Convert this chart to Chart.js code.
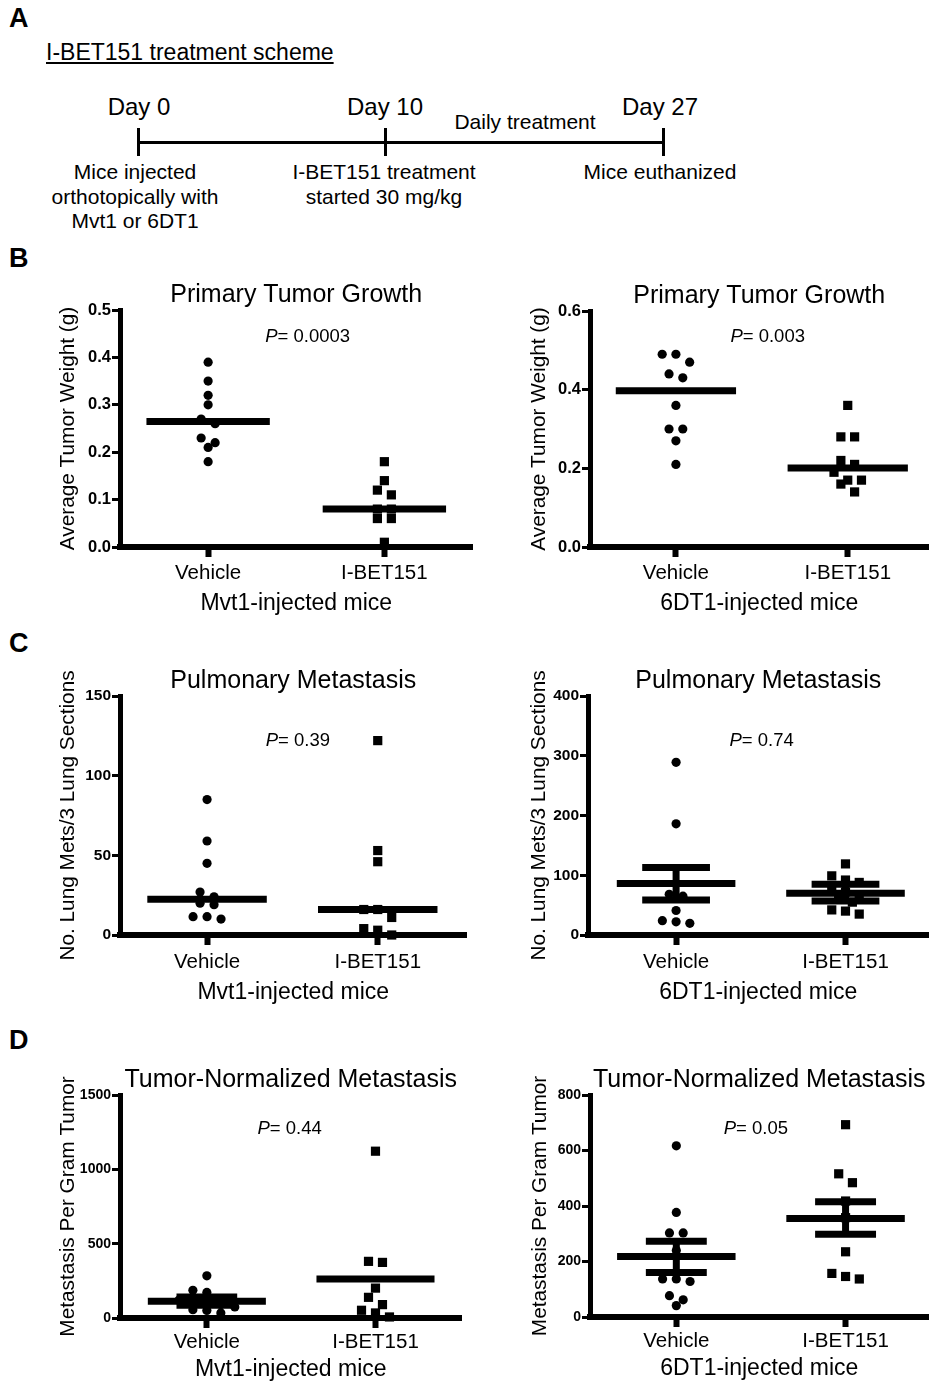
<!DOCTYPE html>
<html><head><meta charset="utf-8">
<script src="https://cdn.jsdelivr.net/npm/chart.js"></script>
<style>
body{margin:0;background:#fff;}
#page{position:relative;width:935px;height:1383px;font-family:"Liberation Sans",Arial,sans-serif;color:#000;overflow:hidden;background:#fff}
.t{position:absolute;white-space:nowrap;line-height:1}
.c{text-align:center;width:400px}
.bar{position:absolute;background:#000}
canvas{position:absolute}
</style></head><body><div id="page">
<div class="t" style="left:9px;top:5px;font-size:27px;font-weight:bold">A</div>
<div class="t" style="left:9px;top:245px;font-size:27px;font-weight:bold">B</div>
<div class="t" style="left:9px;top:630px;font-size:27px;font-weight:bold">C</div>
<div class="t" style="left:9px;top:1027px;font-size:27px;font-weight:bold">D</div>

<div class="t" style="left:46px;top:41px;font-size:23px;text-decoration:underline">I-BET151 treatment scheme</div>
<div class="t c" style="left:-61px;top:95px;font-size:24px">Day 0</div>
<div class="t c" style="left:185px;top:95px;font-size:24px">Day 10</div>
<div class="t c" style="left:460px;top:95px;font-size:24px">Day 27</div>
<div class="t c" style="left:325px;top:110.5px;font-size:21px">Daily treatment</div>
<div class="bar" style="left:138px;top:140.5px;width:525px;height:3px"></div>
<div class="bar" style="left:136.5px;top:128px;width:3px;height:28px"></div>
<div class="bar" style="left:383.5px;top:128px;width:3px;height:28px"></div>
<div class="bar" style="left:661.5px;top:128px;width:3px;height:28px"></div>
<div class="t c" style="left:-65px;top:160px;font-size:21px;line-height:24.5px">Mice injected<br>orthotopically with<br>Mvt1 or 6DT1</div>
<div class="t c" style="left:184px;top:160px;font-size:21px;line-height:24.5px">I-BET151 treatment<br>started 30 mg/kg</div>
<div class="t c" style="left:460px;top:160px;font-size:21px;line-height:24.5px">Mice euthanized</div>

<canvas id="b1"></canvas><canvas id="b2"></canvas>
<canvas id="c1"></canvas><canvas id="c2"></canvas>
<canvas id="d1"></canvas><canvas id="d2"></canvas>
</div>
<script>
// ---------------- DATA ----------------
const categories = ['Vehicle', 'I-BET151'];
const groupLabels = ['Mvt1-injected mice', '6DT1-injected mice'];

// Panel B: Primary tumor growth (g)
const bMvt1Vehicle = [0.39, 0.35, 0.32, 0.30, 0.27, 0.26, 0.23, 0.22, 0.21, 0.18];
const bMvt1IBET    = [0.18, 0.14, 0.12, 0.11, 0.08, 0.08, 0.06, 0.06, 0.01];
const bMvt1Mean    = [0.265, 0.08];
const b6DT1Vehicle = [0.49, 0.49, 0.47, 0.44, 0.43, 0.36, 0.30, 0.30, 0.27, 0.21];
const b6DT1IBET    = [0.36, 0.28, 0.28, 0.22, 0.21, 0.19, 0.17, 0.17, 0.16, 0.14];
const b6DT1Mean    = [0.397, 0.201];

// Panel C: Pulmonary metastasis (no. lung mets / 3 lung sections)
const cMvt1Vehicle = [85, 59, 45, 27, 24, 20, 19, 11.5, 11.5, 10];
const cMvt1IBET    = [122, 53, 46, 16, 16, 11, 4, 3, 0];
const cMvt1Mean    = [22.4, 16];
const c6DT1Vehicle = [289, 186, 68, 65, 41, 24, 22, 19.5];
const c6DT1IBET    = [119, 99, 92, 88, 80, 72, 65, 60, 55, 42, 40, 35];
const c6DT1Mean    = [86, 70];
const c6DT1Sem     = [[58.5, 113], [57, 85]];

// Panel D: Tumor-normalized metastasis (per gram tumor)
const dMvt1Vehicle = [284, 186, 172, 130, 120, 101, 101, 90, 74, 56, 51, 34];
const dMvt1IBET    = [1122, 381, 374, 201, 139, 90, 52, 34, 7];
const dMvt1Mean    = [112, 262];
const dMvt1Sem     = [[85, 142], null];
const d6DT1Vehicle = [617, 377, 303, 303, 240, 137, 137, 128, 77, 62, 41];
const d6DT1IBET    = [693, 516, 484, 418, 358, 235, 157, 146, 137];
const d6DT1Mean    = [218, 355];
const d6DT1Sem     = [[160, 273], [298, 415]];

const pValues = ['0.0003', '0.003', '0.39', '0.74', '0.44', '0.05'];

const yTicksB1 = [0, 0.1, 0.2, 0.3, 0.4, 0.5];
const yTicksB2 = [0, 0.2, 0.4, 0.6];
const yTicksC1 = [0, 50, 100, 150];
const yTicksC2 = [0, 100, 200, 300, 400];
const yTicksD1 = [0, 500, 1000, 1500];
const yTicksD2 = [0, 200, 400, 600, 800];

// ---------------- RENDERING ----------------
const F = '"Liberation Sans", Arial, sans-serif';
Chart.defaults.font.family = F;
Chart.defaults.color = '#000';

// Prism-like column scatter: points whose values fall within one symbol height share a row
// and are spread symmetrically around the column centre.
function swarm(vals, pxY, step, rowH) {
  const idx = vals.map((v, i) => i).sort((a, b) => vals[b] - vals[a]);
  const off = vals.map(() => 0);
  let row = [];
  const flush = () => {
    row.forEach((i, k) => { off[i] = (k - (row.length - 1) / 2) * step; });
    row = [];
  };
  idx.forEach(i => {
    if (row.length && (vals[row[0]] - vals[i]) * pxY >= rowH) flush();
    row.push(i);
  });
  flush();
  return off;
}

const annot = {
  id: 'annot',
  afterDraw(chart, args, o) {
    const {ctx, chartArea: a, scales} = chart;
    ctx.save();
    ctx.fillStyle = '#000';
    ctx.translate(a.left - o.yTitleGap, (a.top + a.bottom) / 2);
    ctx.rotate(-Math.PI / 2);
    ctx.font = o.yTitleSize + 'px ' + F;
    ctx.textAlign = 'center'; ctx.textBaseline = 'middle';
    ctx.fillText(o.yTitle, 0, 0);
    ctx.restore();
    ctx.save();
    ctx.fillStyle = '#000';
    const cx = scales.x.getPixelForValue(o.pX), cy = scales.y.getPixelForValue(o.pY);
    ctx.textBaseline = 'middle'; ctx.textAlign = 'left';
    const fi = 'italic ' + o.pSize + 'px ' + F, fn = o.pSize + 'px ' + F;
    ctx.font = fi; const w1 = ctx.measureText('P').width;
    ctx.font = fn; const rest = '= ' + o.p; const w2 = ctx.measureText(rest).width;
    const x0 = cx - (w1 + w2) / 2;
    ctx.font = fi; ctx.fillText('P', x0, cy);
    ctx.font = fn; ctx.fillText(rest, x0 + w1, cy);
    ctx.restore();
  }
};

function lineDs(pts, w) {
  return {type: 'line', data: pts, borderColor: '#000', borderWidth: w, pointRadius: 0,
    showLine: true, borderCapStyle: 'butt', clip: false, fill: false};
}

function build(id, s) {
  const cv = document.getElementById(id);
  const titleH = 25 * 1.2;
  const ct = Math.floor(s.T - titleH - 6);
  const padTop = s.T - titleH - ct;
  const ch = Math.ceil(s.B + s.xh - ct);
  const padBottom = ct + ch - (s.B + s.xh);
  const cw = s.cr - s.cl;
  cv.width = cw; cv.height = ch;
  cv.style.left = s.cl + 'px'; cv.style.top = ct + 'px';
  cv.style.width = cw + 'px'; cv.style.height = ch + 'px';
  const pxY = (s.B - s.T) / (s.yr[1] - s.yr[0]);
  const pxX = (s.R - s.L) / (s.xr[1] - s.xr[0]);
  const datasets = [];
  [s.g1, s.g2].forEach((vals, gi) => {
    const off = swarm(vals, pxY, 14, 9);
    datasets.push({
      data: vals.map((v, i) => ({x: gi + 1 + off[i] / pxX, y: v})),
      pointStyle: gi === 0 ? 'circle' : 'rect', pointRadius: gi === 0 ? 4.6 : 6.5,
      backgroundColor: '#000', borderWidth: 0, pointHoverRadius: 0, clip: false
    });
  });
  s.mean.forEach((m, gi) => {
    const c = gi + 1;
    datasets.push(lineDs([{x: c - 0.35, y: m}, {x: c + 0.35, y: m}], 7));
  });
  if (s.sem) s.sem.forEach((e, gi) => {
    if (!e) return;
    const c = gi + 1, h = s.capHalf;
    datasets.push(lineDs([{x: c - h, y: e[0]}, {x: c + h, y: e[0]}], 7));
    datasets.push(lineDs([{x: c - h, y: e[1]}, {x: c + h, y: e[1]}], 7));
    datasets.push(lineDs([{x: c, y: e[0]}, {x: c, y: e[1]}], 7));
  });
  const yW = s.L - s.cl;
  new Chart(cv, {
    type: 'scatter',
    data: {datasets},
    plugins: [annot],
    options: {
      responsive: false, animation: false, devicePixelRatio: 1,
      layout: {padding: {top: padTop, bottom: padBottom, left: 0, right: s.cr - s.R}},
      plugins: {
        legend: {display: false}, tooltip: {enabled: false},
        title: {display: true, text: s.title, fullSize: false, color: '#000',
          font: {family: F, size: 25, weight: 'normal'}, padding: {top: 0, bottom: 0}},
        annot: {yTitle: s.yTitle, yTitleGap: s.yGap, yTitleSize: 20.8, p: s.p, pX: s.pX, pY: s.pY, pSize: 18.5}
      },
      scales: {
        x: {
          type: 'linear', min: s.xr[0], max: s.xr[1],
          afterBuildTicks: ax => { ax.ticks = categories.map((c, i) => ({value: i + 1})); },
          afterFit: ax => { ax.height = s.xh; },
          ticks: {callback: v => categories[v - 1], autoSkip: false, maxRotation: 0, padding: s.tickPad,
            color: '#000', font: {family: F, size: 20.5}},
          grid: {drawOnChartArea: false, drawTicks: true, tickLength: 10, tickWidth: 6, tickColor: '#000'},
          border: {display: true, width: 6, color: '#000'},
          title: {display: true, text: s.group, color: '#000', font: {family: F, size: 23}, padding: {top: 0, bottom: 0}}
        },
        y: {
          type: 'linear', min: s.yr[0], max: s.yr[1],
          afterBuildTicks: ax => { ax.ticks = s.yTicks.map(v => ({value: v})); },
          afterFit: ax => { ax.width = yW; },
          ticks: {callback: v => v.toFixed(s.dec), padding: 1, color: '#000',
            font: {family: F, size: s.yTickSize, weight: 'bold'}},
          grid: {drawOnChartArea: false, drawTicks: true, tickLength: 8, tickWidth: 3, tickColor: '#000'},
          border: {display: true, width: 5, color: '#000'}
        }
      }
    }
  });
}

build('b1', {cl: 40, cr: 479, L: 120, R: 473, T: 310, B: 547, xh: 70.5, tickPad: 4, xr: [0.5, 2.5], yr: [0, 0.5],
  yTicks: yTicksB1, dec: 1, yTickSize: 16.5, g1: bMvt1Vehicle, g2: bMvt1IBET, mean: bMvt1Mean,
  title: 'Primary Tumor Growth', yTitle: 'Average Tumor Weight (g)', yGap: 52, group: groupLabels[0],
  p: pValues[0], pX: 1.565, pY: 0.443});
build('b2', {cl: 510, cr: 935, L: 590, R: 935, T: 311, B: 547, xh: 70.5, tickPad: 4, xr: [0.5, 2.47], yr: [0, 0.6],
  yTicks: yTicksB2, dec: 1, yTickSize: 16.5, g1: b6DT1Vehicle, g2: b6DT1IBET, mean: b6DT1Mean,
  title: 'Primary Tumor Growth', yTitle: 'Average Tumor Weight (g)', yGap: 51, group: groupLabels[1],
  p: pValues[1], pX: 1.534, pY: 0.534});
build('c1', {cl: 40, cr: 473, L: 120, R: 467, T: 696, B: 935, xh: 71.5, tickPad: 5, xr: [0.49, 2.52], yr: [0, 150],
  yTicks: yTicksC1, dec: 0, yTickSize: 15.5, g1: cMvt1Vehicle, g2: cMvt1IBET, mean: cMvt1Mean,
  title: 'Pulmonary Metastasis', yTitle: 'No. Lung Mets/3 Lung Sections', yGap: 52, group: groupLabels[0],
  p: pValues[2], pX: 1.532, pY: 121.8});
build('c2', {cl: 510, cr: 935, L: 588, R: 935, T: 696, B: 935, xh: 71.5, tickPad: 5, xr: [0.48, 2.49], yr: [0, 400],
  yTicks: yTicksC2, dec: 0, yTickSize: 15.5, g1: c6DT1Vehicle, g2: c6DT1IBET, mean: c6DT1Mean, sem: c6DT1Sem, capHalf: 0.2,
  title: 'Pulmonary Metastasis', yTitle: 'No. Lung Mets/3 Lung Sections', yGap: 49, group: groupLabels[1],
  p: pValues[3], pX: 1.505, pY: 324.7});
build('d1', {cl: 40, cr: 468, L: 120, R: 462, T: 1095, B: 1318, xh: 65.5, tickPad: 2, xr: [0.485, 2.51], yr: [0, 1500],
  yTicks: yTicksD1, dec: 0, yTickSize: 14, g1: dMvt1Vehicle, g2: dMvt1IBET, mean: dMvt1Mean, sem: dMvt1Sem, capHalf: 0.18,
  title: 'Tumor-Normalized Metastasis', yTitle: 'Metastasis Per Gram Tumor', yGap: 52, group: groupLabels[0],
  p: pValues[4], pX: 1.491, pY: 1271});
build('d2', {cl: 510, cr: 935, L: 590, R: 935, T: 1095, B: 1317, xh: 65.5, tickPad: 2, xr: [0.49, 2.49], yr: [0, 800],
  yTicks: yTicksD2, dec: 0, yTickSize: 14, g1: d6DT1Vehicle, g2: d6DT1IBET, mean: d6DT1Mean, sem: d6DT1Sem, capHalf: 0.18,
  title: 'Tumor-Normalized Metastasis', yTitle: 'Metastasis Per Gram Tumor', yGap: 50, group: groupLabels[1],
  p: pValues[5], pX: 1.47, pY: 677});
</script>
</body></html>
